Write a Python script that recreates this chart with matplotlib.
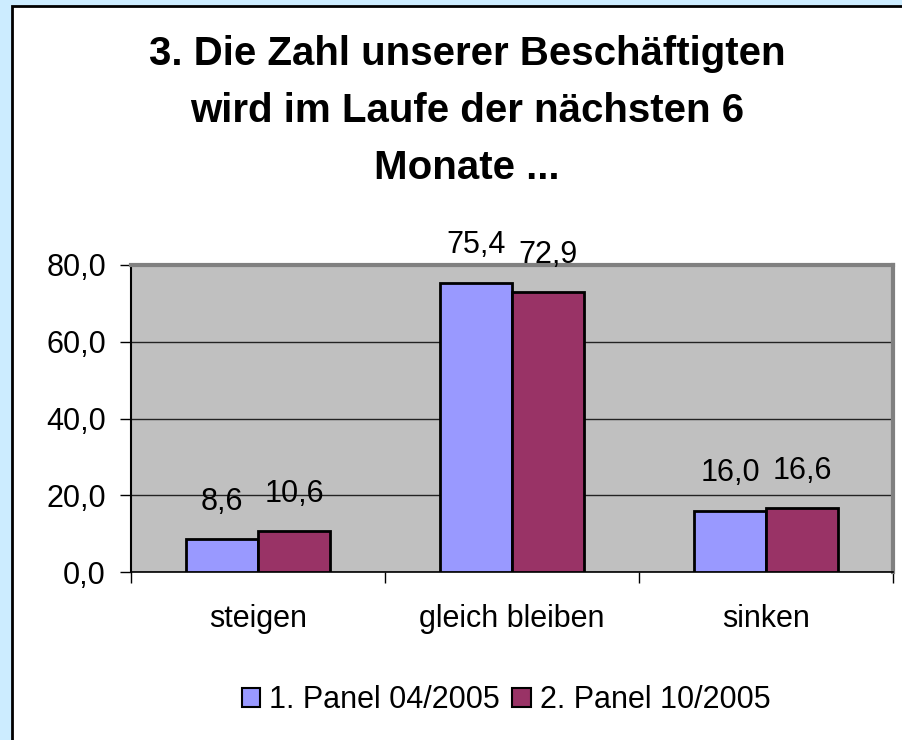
import matplotlib
matplotlib.use("Agg")
import matplotlib.pyplot as plt
from matplotlib.patches import Rectangle, Patch
import numpy as np

categories = ["steigen", "gleich bleiben", "sinken"]
series_names = ["1. Panel 04/2005", "2. Panel 10/2005"]
panel1 = [8.6, 75.4, 16.0]
panel2 = [10.6, 72.9, 16.6]
yticks = [0, 20, 40, 60, 80]
title = "3. Die Zahl unserer Beschäftigten\nwird im Laufe der nächsten 6\nMonate ..."

colors = ["#9999FF", "#993366"]
plt.rcParams['font.family'] = ['Liberation Sans', 'DejaVu Sans']

W, H = 903, 740
fig = plt.figure(figsize=(W/100, H/100), dpi=100)
fig.patch.set_facecolor("#CCECFF")

# white chart box
fig.patches.append(Rectangle((12.5/W, -0.01), 1, 1.01 - 5.5/H, transform=fig.transFigure,
                             facecolor="white", edgecolor="black", linewidth=2, zorder=-10))

ax = fig.add_axes([131/W, 1 - 572/H, (893-131)/W, (572-265)/H])
ax.set_zorder(1)
ax.set_facecolor("#C0C0C0")

FS = 22
x = np.arange(len(categories))
bw = 0.283
for i, (vals, c) in enumerate(zip([panel1, panel2], colors)):
    xs = x + (i - 0.5) * bw
    ax.bar(xs, vals, width=bw, color=c, edgecolor="black", linewidth=2, zorder=3)
    for xx, v in zip(xs, vals):
        ax.annotate(f"{v:.1f}".replace(".", ","), (xx, v), xytext=(0, 21),
                    textcoords="offset points", ha="center", va="baseline",
                    fontsize=FS, zorder=4, annotation_clip=False)

ax.set_xlim(-0.5, 2.5)
ax.set_ylim(0, 80)
ax.set_yticks(yticks)
ax.set_yticklabels([f"{t:.1f}".replace(".", ",") for t in yticks], fontsize=FS)
ax.yaxis.grid(True, color="#222222", linewidth=1, zorder=1)
ax.set_axisbelow(True)

ax.set_xticks([-0.5, 0.5, 1.5, 2.5])
ax.set_xticklabels([])
ax.set_xticks(x, minor=True)
ax.set_xticklabels(categories, minor=True, fontsize=FS)
ax.tick_params(axis="x", which="minor", length=0, pad=23)
ax.tick_params(axis="x", which="major", length=8, width=1, direction="out")
ax.tick_params(axis="y", length=8, width=1, direction="out", pad=10)

ax.spines["left"].set_color("black")
ax.spines["left"].set_linewidth(1.5)
ax.spines["bottom"].set_color("black")
ax.spines["bottom"].set_linewidth(1.2)
ax.spines["top"].set_color("#808080")
ax.spines["top"].set_linewidth(3)
ax.spines["right"].set_color("#808080")
ax.spines["right"].set_linewidth(3)

fig.text(467/W, 1 - 111/H, title, ha="center", va="center", fontsize=29,
         fontweight="bold", linespacing=1.62)

handles = [Patch(facecolor=c, edgecolor="black", linewidth=1.5) for c in colors]
fig.legend(handles, series_names, loc="center", bbox_to_anchor=(506/W, 1 - 700/H),
           ncol=2, frameon=False, fontsize=FS, handlelength=0.6, handleheight=0.6,
           handletextpad=0.3, columnspacing=0.4)

fig.savefig("out.png", dpi=100, facecolor=fig.get_facecolor())
